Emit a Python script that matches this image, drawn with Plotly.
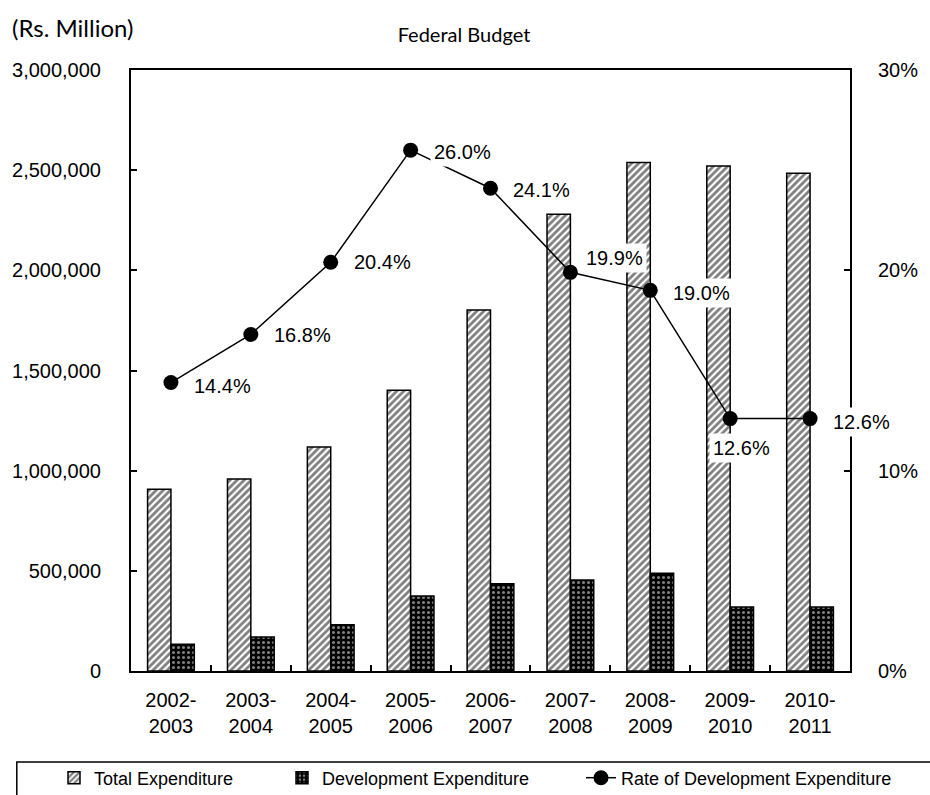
import plotly.graph_objects as go

# Fiscal years
years = ["2002-<br>2003", "2003-<br>2004", "2004-<br>2005", "2005-<br>2006", "2006-<br>2007",
         "2007-<br>2008", "2008-<br>2009", "2009-<br>2010", "2010-<br>2011"]

# Rs. Million
total_exp = [907000, 958000, 1118000, 1402000, 1802000, 2280000, 2538000, 2521000, 2484000]
dev_exp = [133000, 170000, 231000, 374000, 436000, 454000, 488000, 320000, 320000]

# Rate of development expenditure (%)
dev_rate = [14.4, 16.8, 20.4, 26.0, 24.1, 19.9, 19.0, 12.6, 12.6]

# label offsets (px) for the rate labels
label_dx = [52, 52, 52, 52, 51, 44, 51, 11, 51]
label_dy = [-3, -1, 0, -2, -2, 14, -3, -29, -3]

FONT = "Liberation Sans, Arial, sans-serif"

fig = go.Figure()

fig.add_trace(go.Bar(
    x=years, y=total_exp, name="Total Expenditure", legend="legend", showlegend=True,
    marker=dict(color="white", line=dict(color="black", width=1.5),
                pattern=dict(shape="/", fgcolor="black", bgcolor="white", size=5, solidity=0.55)),
))
fig.add_trace(go.Bar(
    x=years, y=dev_exp, name="Development Expenditure", legend="legend2", showlegend=True,
    marker=dict(color="black", line=dict(color="black", width=1.5),
                pattern=dict(shape=".", fgcolor="white", bgcolor="black", size=5, solidity=0.3)),
))
fig.add_trace(go.Scatter(
    x=years, y=dev_rate, name="Rate of Development Expenditure", legend="legend3", showlegend=True,
    yaxis="y2", mode="lines+markers",
    line=dict(color="black", width=1.5),
    marker=dict(color="black", size=15),
))

annotations = []
for xv, rv, dx, dy in zip(years, dev_rate, label_dx, label_dy):
    annotations.append(dict(
        x=xv, y=rv, xref="x", yref="y2", text=f"{rv:.1f}%", showarrow=False,
        xshift=dx, yshift=dy, bgcolor="white", borderpad=3,
        font=dict(family=FONT, size=20, color="black"),
    ))

annotations.append(dict(
    text="(Rs. Million)", xref="paper", yref="paper", x=(7 - 129) / 724, y=(671 - 27) / 601,
    xanchor="left", yanchor="middle", showarrow=False,
    font=dict(family="Lato, sans-serif", size=24, color="black"),
))

legend_common = dict(orientation="h", xref="container", yref="container",
                     y=1 - 778 / 795, xanchor="left", yanchor="middle",
                     font=dict(family=FONT, size=18), bgcolor="rgba(0,0,0,0)")

fig.update_layout(
    width=930, height=795,
    margin=dict(l=129, r=77, t=70, b=124),
    paper_bgcolor="white", plot_bgcolor="white",
    showlegend=True,
    barmode="group", bargap=0.415, bargroupgap=0,
    title=dict(text="Federal Budget", x=464 / 930, xref="container", y=1 - 35 / 795,
               yref="container", xanchor="center", yanchor="middle",
               font=dict(family="Lato, sans-serif", size=20, color="black")),
    font=dict(family=FONT, size=20, color="black"),
    xaxis=dict(
        range=[-0.5, 8.5],
        showline=True, linecolor="black", linewidth=2, mirror=True,
        ticks="inside", ticklen=6, tickcolor="black", tickwidth=1.5,
        tickson="boundaries", showgrid=False, ticklabelstandoff=10,
        tickfont=dict(family=FONT, size=20),
    ),
    yaxis=dict(
        range=[0, 3000000], dtick=500000, tickformat=",",
        showline=True, linecolor="black", linewidth=2,
        ticks="inside", ticklen=6, tickcolor="black", tickwidth=1.5,
        showgrid=False, zeroline=False, ticklabelstandoff=24,
        tickfont=dict(family=FONT, size=20),
    ),
    yaxis2=dict(
        range=[0, 30], dtick=10, ticksuffix="%", overlaying="y", side="right",
        showline=True, linecolor="black", linewidth=2,
        ticks="inside", ticklen=6, tickcolor="black", tickwidth=1.5,
        showgrid=False, zeroline=False, ticklabelstandoff=22,
        tickfont=dict(family=FONT, size=20),
    ),
    legend=dict(x=54 / 930, **legend_common),
    legend2=dict(x=282 / 930, **legend_common),
    legend3=dict(x=581 / 930, **legend_common),
    annotations=annotations,
    shapes=[dict(type="rect", xref="paper", yref="paper",
                 x0=(14 - 129) / 724, x1=(940 - 129) / 724,
                 y0=(671 - 762) / 601, y1=(671 - 805) / 601,
                 line=dict(color="black", width=1.5), fillcolor="rgba(0,0,0,0)")],
)

fig.write_html("out.html")
